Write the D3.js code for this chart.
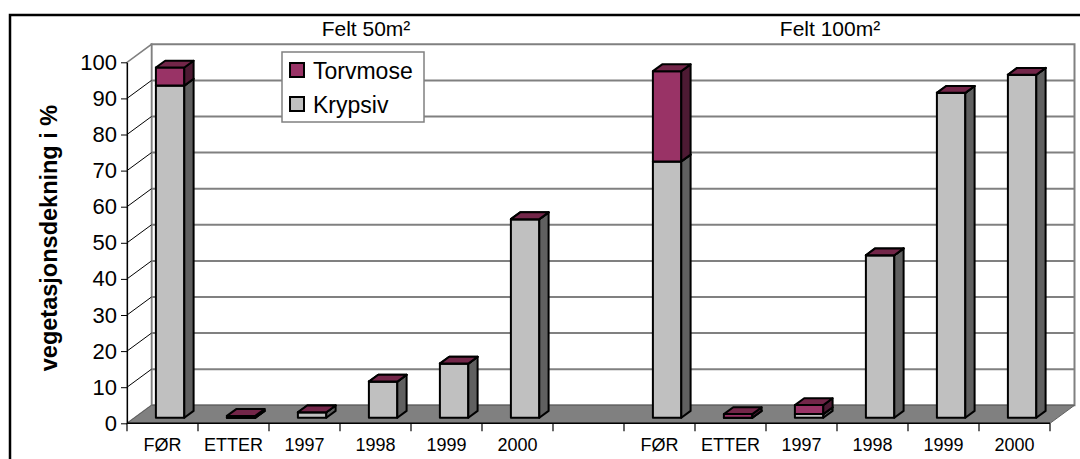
<!DOCTYPE html>
<html>
<head>
<meta charset="utf-8">
<style>
    body { margin: 0; background: #fff; }
    text { font-family: Arial, "Liberation Sans", Helvetica, sans-serif; }
</style>
</head>
<body>
<svg id="chart"></svg>
<script src="https://cdn.jsdelivr.net/npm/d3@7"></script>
<script>
    // Data
    let categories = ['FØR', 'ETTER', '1997', '1998', '1999', '2000', '', 'FØR', 'ETTER', '1997', '1998', '1999', '2000']
    let krypsiv = [92, 0, 1.5, 10, 15, 55, null, 71, 0, 1, 45, 90, 95]
    let torvmose = [5, 0.5, 0, 0, 0, 0, null, 25, 1, 2.5, 0, 0, 0]
    let panelTitles = ['Felt 50m²', 'Felt 100m²']
    let seriesNames = ['Torvmose', 'Krypsiv']
    let yTicks = d3.range(0, 101, 10)

    // Setup
    let width = 1080, height = 459
    let plot = { left: 127, right: 1050, top: 62.3, bottom: 423.3 }
    let depth = { dx: 24.5, dy: 18 }
    let barDepth = [0.31, 0.69]

    let colors = {
        Krypsiv: { front: '#c0c0c0', side: '#606060', top: '#a0a0a0' },
        Torvmose: { front: '#993366', side: '#4d1a33', top: '#732649' }
    }

    let svg = d3.select('#chart').attr('width', width).attr('height', height)

    let idx = d3.range(categories.length)
    let slot = d3.scaleBand().domain(idx).range([plot.left, plot.right])
    let x = d3.scaleBand().domain(idx).range([plot.left, plot.right])
        .paddingInner(0.6).paddingOuter(0.3)
    let y = d3.scaleLinear().domain([0, 100]).range([plot.bottom, plot.top])

    // project a point: front-plane x, value, depth fraction
    let pt = (px, v, d) => [px + d * depth.dx, y(v) - d * depth.dy]
    let poly = pts => pts.map(p => p.join(',')).join(' ')

    // walls
    svg.append('polygon')
        .attr('points', poly([pt(plot.left, 100, 1), pt(plot.right, 100, 1), pt(plot.right, 0, 1), pt(plot.left, 0, 1)]))
        .attr('fill', '#fff').attr('stroke', '#808080').attr('stroke-width', 2)
    svg.append('polygon')
        .attr('points', poly([pt(plot.left, 0, 0), pt(plot.left, 100, 0), pt(plot.left, 100, 1), pt(plot.left, 0, 1)]))
        .attr('fill', '#fff').attr('stroke', '#808080').attr('stroke-width', 1.5)

    // gridlines
    let grid = yTicks.filter(v => v > 0 && v < 100)
    svg.append('g').selectAll('line').data(grid).enter().append('line')
        .attr('x1', v => pt(plot.left, v, 1)[0]).attr('y1', v => pt(plot.left, v, 1)[1])
        .attr('x2', v => pt(plot.right, v, 1)[0]).attr('y2', v => pt(plot.right, v, 1)[1])
        .attr('stroke', '#808080').attr('stroke-width', 2)
    svg.append('g').selectAll('line').data(grid).enter().append('line')
        .attr('x1', v => pt(plot.left, v, 0)[0]).attr('y1', v => pt(plot.left, v, 0)[1])
        .attr('x2', v => pt(plot.left, v, 1)[0]).attr('y2', v => pt(plot.left, v, 1)[1])
        .attr('stroke', '#000').attr('stroke-width', 1)

    // floor
    svg.append('polygon')
        .attr('points', poly([pt(plot.left, 0, 0), pt(plot.right, 0, 0), pt(plot.right, 0, 1), pt(plot.left, 0, 1)]))
        .attr('fill', '#808080').attr('stroke', '#606060').attr('stroke-width', 1)

    // bars
    let bars = svg.append('g')
    idx.forEach(i => {
        if (krypsiv[i] == null) return
        let segs = [
            { name: 'Krypsiv', v0: 0, v1: krypsiv[i] },
            { name: 'Torvmose', v0: krypsiv[i], v1: krypsiv[i] + torvmose[i] }
        ]
        let xl = x(i), xr = x(i) + x.bandwidth()
        let [df, db] = barDepth
        segs.forEach(s => {
            let c = colors[s.name]
            let g = bars.append('g').attr('stroke', '#000').attr('stroke-width', 2).attr('stroke-linejoin', 'round')
            g.append('polygon')
                .attr('points', poly([pt(xl, s.v0, df), pt(xr, s.v0, df), pt(xr, s.v1, df), pt(xl, s.v1, df)]))
                .attr('fill', c.front)
            g.append('polygon')
                .attr('points', poly([pt(xr, s.v0, df), pt(xr, s.v0, db), pt(xr, s.v1, db), pt(xr, s.v1, df)]))
                .attr('fill', c.side)
            g.append('polygon')
                .attr('points', poly([pt(xl, s.v1, df), pt(xr, s.v1, df), pt(xr, s.v1, db), pt(xl, s.v1, db)]))
                .attr('fill', c.top)
        })
    })

    // y axis
    let yAxis = svg.append('g')
        .attr('transform', `translate(${plot.left},0)`)
        .call(d3.axisLeft(y).tickValues(yTicks).tickSize(6).tickSizeOuter(0).tickPadding(4))
    yAxis.select('.domain').attr('stroke', '#000').attr('stroke-width', 1.2)
    yAxis.selectAll('.tick line').attr('stroke', '#000')
    yAxis.selectAll('.tick text')
        .attr('font-size', 22).attr('font-family', 'Arial, "Liberation Sans", sans-serif').attr('fill', '#000')

    // x axis
    let xAxis = svg.append('g')
    xAxis.append('line')
        .attr('x1', plot.left).attr('x2', plot.right).attr('y1', plot.bottom).attr('y2', plot.bottom)
        .attr('stroke', '#000').attr('stroke-width', 1.5)
    xAxis.selectAll('.tk').data(d3.range(categories.length + 1)).enter().append('line')
        .attr('class', 'tk')
        .attr('x1', i => plot.left + i * slot.step()).attr('x2', i => plot.left + i * slot.step())
        .attr('y1', plot.bottom).attr('y2', plot.bottom + 8)
        .attr('stroke', '#000').attr('stroke-width', 1.2)
    xAxis.selectAll('text').data(idx).enter().append('text')
        .attr('x', i => slot(i) + slot.bandwidth() / 2)
        .attr('y', 451)
        .attr('text-anchor', 'middle')
        .attr('font-size', 18)
        .text(i => categories[i])

    // panel titles
    svg.selectAll('.ptitle').data(panelTitles).enter().append('text')
        .attr('class', 'ptitle')
        .attr('x', (d, i) => [366, 830][i])
        .attr('y', 36)
        .attr('text-anchor', 'middle')
        .attr('font-size', 21)
        .text(d => d)

    // y title
    svg.append('text')
        .attr('transform', 'translate(57,238) rotate(-90)')
        .attr('text-anchor', 'middle')
        .attr('font-size', 23.5)
        .attr('font-weight', 'bold')
        .text('vegetasjonsdekning i %')

    // legend
    let legend = svg.append('g').attr('transform', 'translate(282,52)')
    legend.append('rect').attr('width', 142).attr('height', 70)
        .attr('fill', '#fff').attr('stroke', '#808080').attr('stroke-width', 1.5)
    let items = legend.selectAll('.item').data(seriesNames).enter().append('g')
        .attr('transform', (d, i) => `translate(8,${11 + i * 34})`)
    items.append('rect').attr('width', 14).attr('height', 14)
        .attr('fill', d => colors[d].front).attr('stroke', '#000').attr('stroke-width', 2)
    items.append('text').attr('x', 23).attr('y', 15.5)
        .attr('font-size', 23)
        .text(d => d)

    // outer frame
    svg.append('rect')
        .attr('x', 10).attr('y', 15).attr('width', 1100).attr('height', 500)
        .attr('fill', 'none').attr('stroke', '#000').attr('stroke-width', 2.5)
</script>
</body>
</html>
